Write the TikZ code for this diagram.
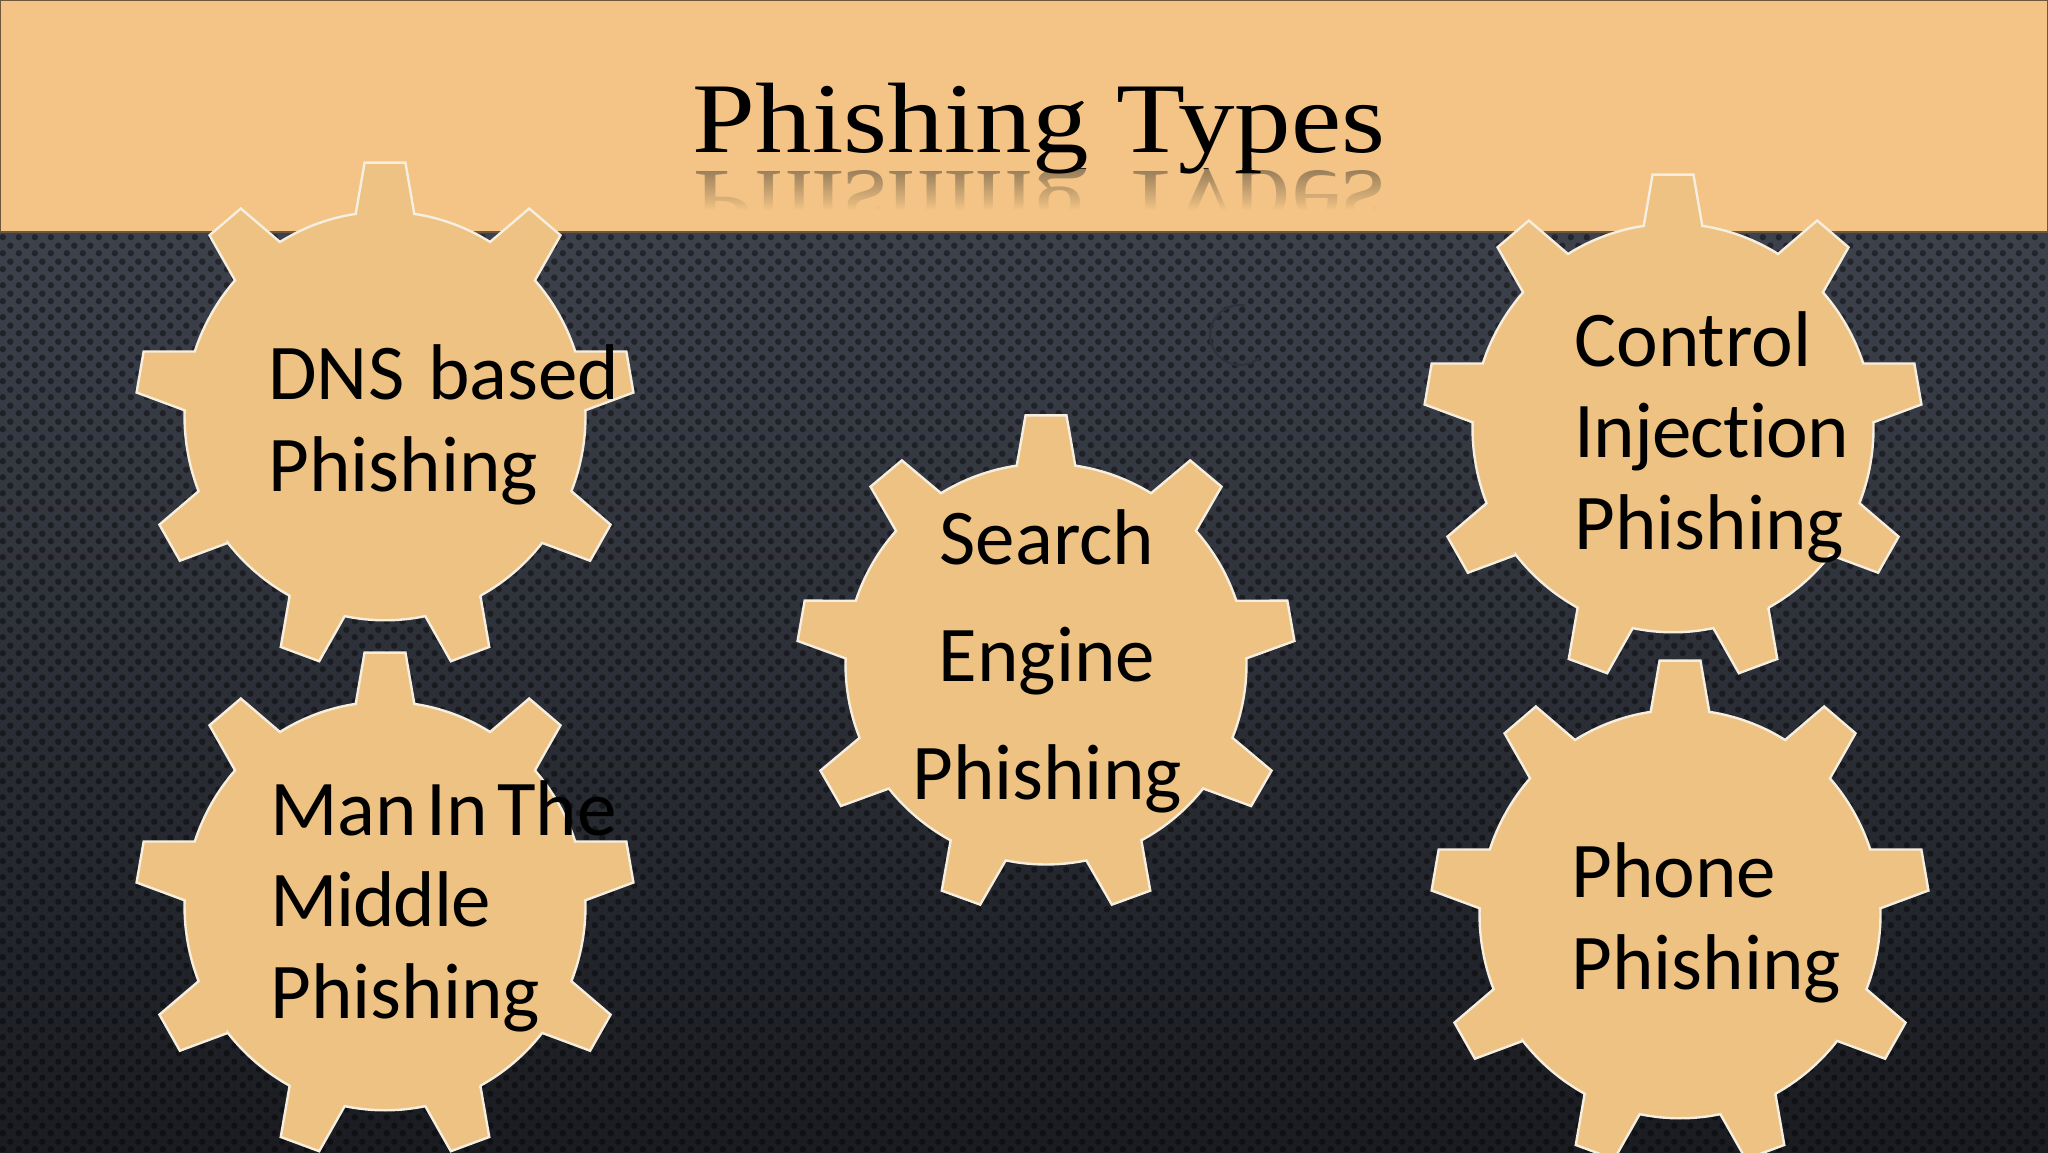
\documentclass[tikz,border=0pt]{standalone}
\usepackage{fontspec}
\setmainfont{Carlito}[Ligatures=NoCommon]
\newfontfamily\titlefont{Liberation Serif}
\usetikzlibrary{patterns,fadings}
\definecolor{bandcol}{HTML}{F3C485}
\definecolor{gearcol}{HTML}{EEC283}
\definecolor{gearline}{HTML}{F6EFE0}
\definecolor{bgtop}{HTML}{464B57}
\definecolor{bgbot}{HTML}{1A1C21}
\definecolor{ringcol}{HTML}{2E323C}
% staggered dots of the backdrop
\pgfdeclarepatternformonly{bgdots}{\pgfqpoint{0pt}{0pt}}{\pgfqpoint{8pt}{8pt}}{\pgfqpoint{8pt}{8pt}}{
	\pgfpathcircle{\pgfqpoint{2pt}{2pt}}{1.7pt}
	\pgfpathcircle{\pgfqpoint{6pt}{6pt}}{1.7pt}
	\pgfusepath{fill}
}
\tikzfading[name=reflectfade,top color=transparent!45,bottom color=transparent!0]
\tikzset{
	gearshape/.style={fill=gearcol,draw=gearline,line width=1.2pt,line join=miter},
	geartext/.style={inner sep=0pt,text=black,align=left,font=\fontsize{39.5}{45.7}\selectfont},
	titletext/.style={inner sep=0pt,xscale=1.13,font=\titlefont\fontsize{50}{60}\selectfont},
	pics/gear/.style={code={
		\path[gearshape] (98.4:200.5)
		\foreach \a in {90,50,...,-230} {
			-- (\a+8.4:200.5) -- (\a+4.7:249.5) -- (\a-4.7:249.5) -- (\a-8.4:200.5)
			arc[start angle=\a-8.4,end angle=\a-31.6,radius=200.5]
		} -- cycle;
	}}
}
\begin{document}
\begin{tikzpicture}[x=0.5pt,y=0.5pt]
\useasboundingbox (0,0) rectangle (2048,1152);
% backdrop
\shade[top color=bgtop,bottom color=bgbot] (0,0) rectangle (2048,1152);
\fill[pattern=bgdots,pattern color=black,fill opacity=0.42] (0,0) rectangle (2048,920);
\draw[color=ringcol,line width=1pt] (1240,817) ++(80:30) arc[start angle=80,end angle=310,radius=30];
% header band
\fill[bandcol,draw=black!55!bandcol,line width=1pt] (0,920) rectangle (2048,1152);
\begin{scope}
\clip (680,983) rectangle (1400,942);
\node[titletext,yscale=-1,anchor=base,text=black!85] (reflection) at (1039,980) {Phishing Types};
\fill[bandcol,path fading=reflectfade] (680,983) rectangle (1400,942);
\end{scope}
\node[titletext,anchor=base] (title) at (1039,999) {Phishing Types};
% gears
\pic[yscale=1.019] (dnsgear) at (385,736) {gear};
\pic[yscale=1.019] (mitmgear) at (385,246) {gear};
\pic (searchgear) at (1046,488) {gear};
\pic[yscale=1.019] (controlgear) at (1673,724) {gear};
\pic[yscale=1.019] (phonegear) at (1680,238) {gear};
% labels
\node[geartext,anchor=west] (dnstext) at (268,727) {{\spaceskip=12pt DNS based}\\Phishing};
\node[geartext,anchor=west] (mitmtext) at (270,246) {{\spaceskip=4.7pt Man In The}\\{\addfontfeature{LetterSpace=-1.5}Middle}\\Phishing};
\node[geartext,anchor=center,align=center,font=\fontsize{39.5}{58.7}\selectfont] (searchtext) at (1047,491) {Search\\Engine\\Phishing};
\node[geartext,anchor=west] (controltext) at (1574,715) {Control\\{\addfontfeature{LetterSpace=-1}Injection}\\Phishing};
\node[geartext,anchor=west] (phonetext) at (1571,229) {Phone\\Phishing};
\end{tikzpicture}
\end{document}
